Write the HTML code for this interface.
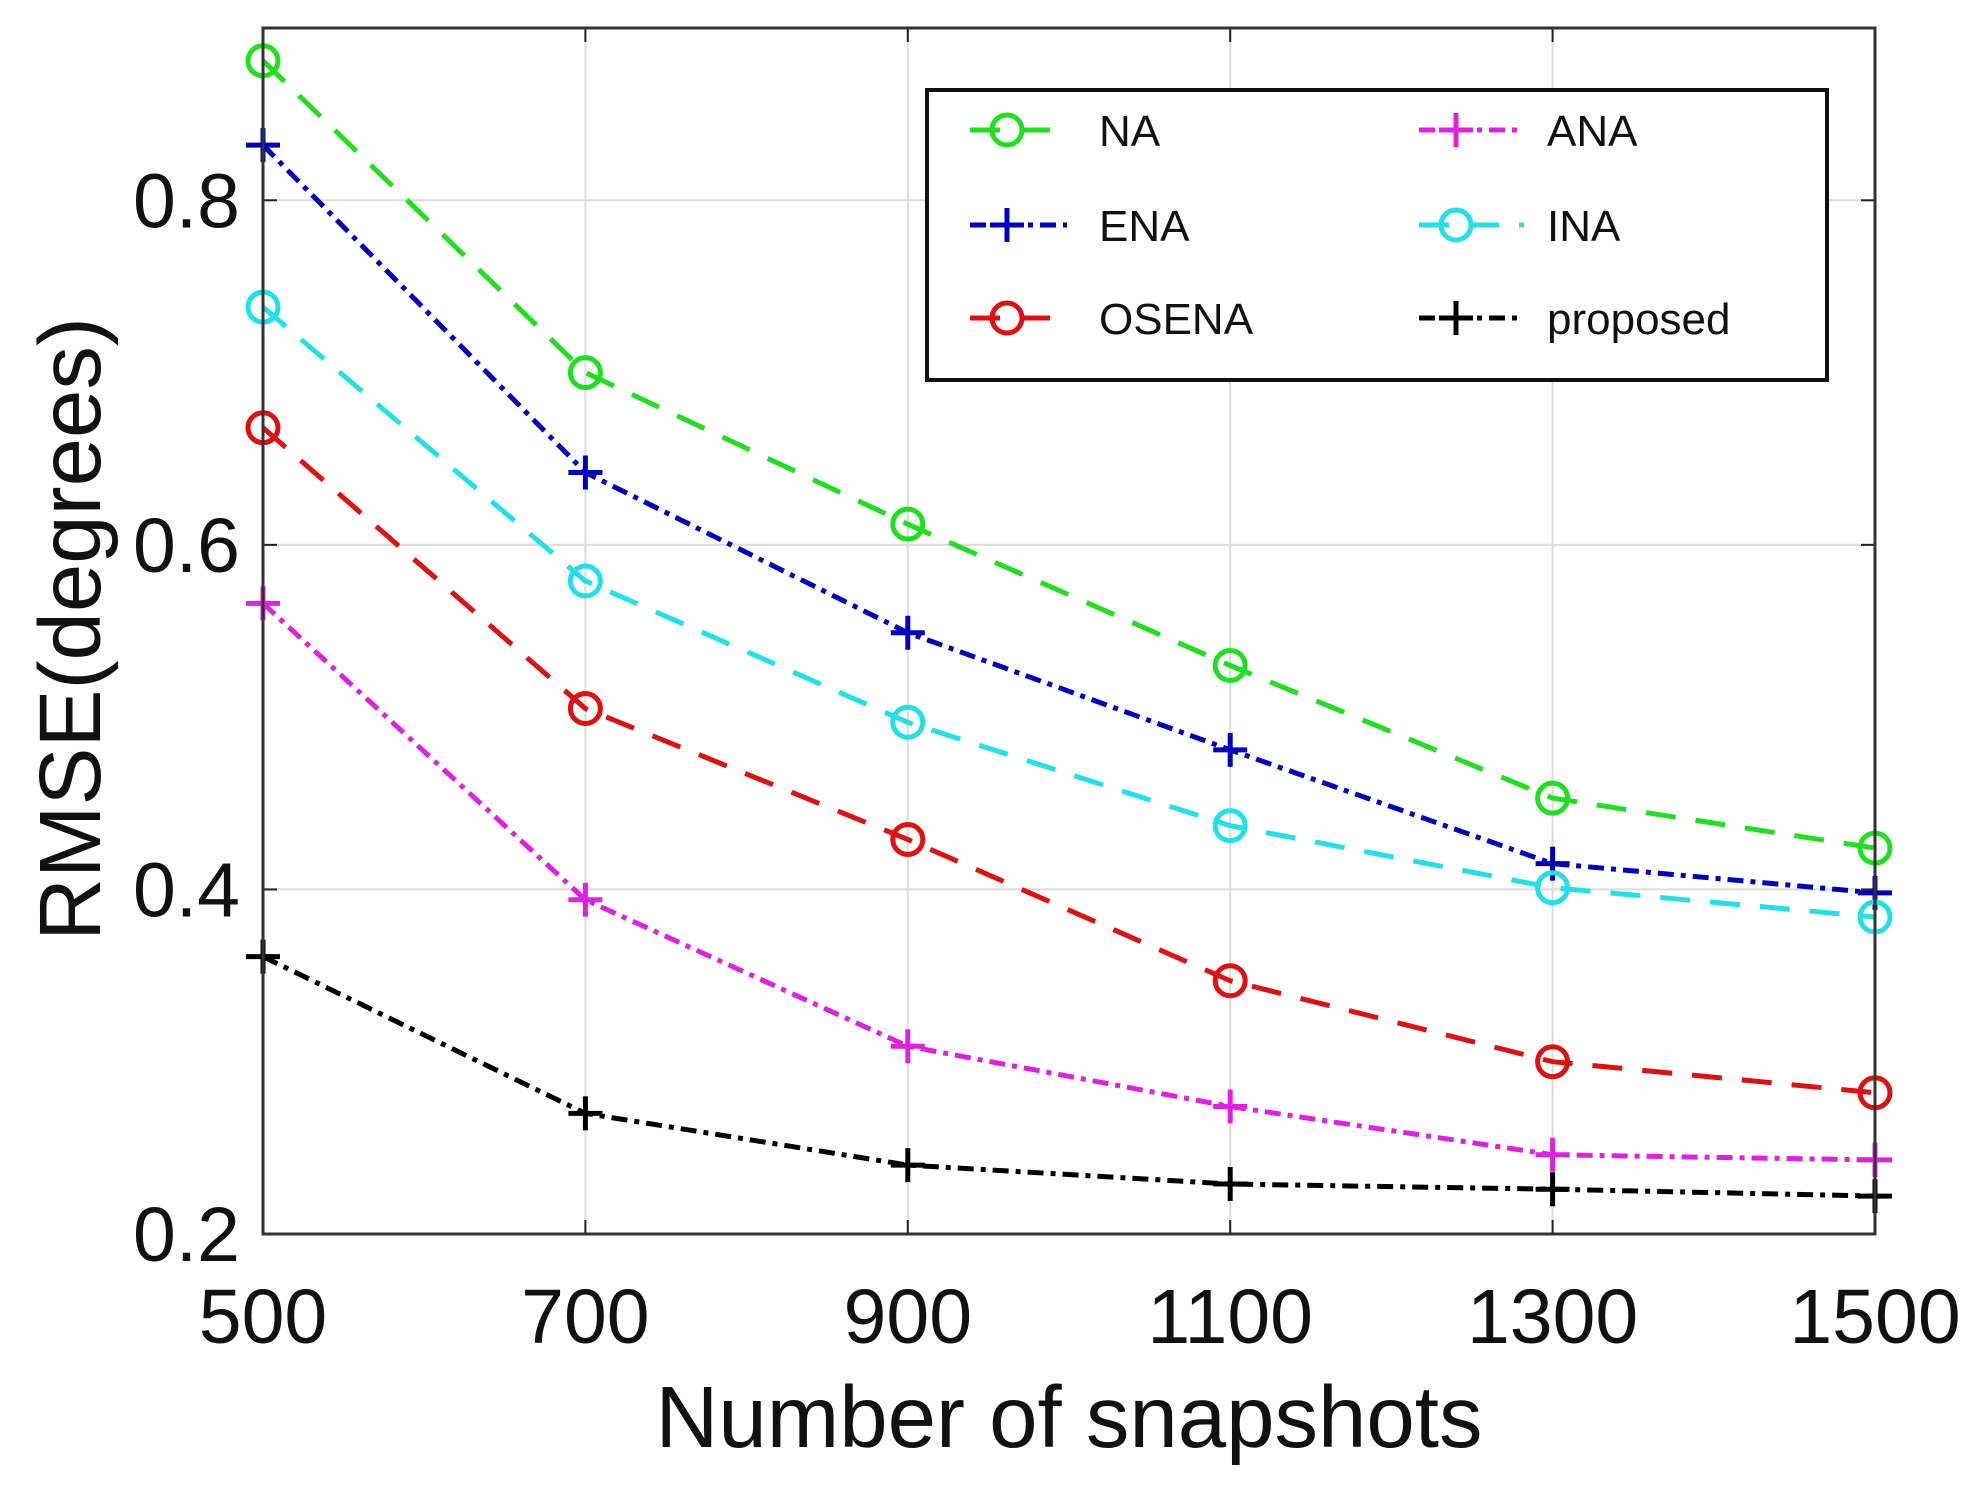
<!DOCTYPE html>
<html><head><meta charset="utf-8"><style>
html,body{margin:0;padding:0;background:#fff;}
svg{display:block;font-family:"Liberation Sans",Arial,sans-serif;}
</style></head><body>
<svg id="chart" width="1982" height="1495" viewBox="0 0 1982 1495" xmlns="http://www.w3.org/2000/svg">
<rect x="0" y="0" width="1982" height="1495" fill="#fff"/>
<g id="grid"></g>
<g id="series"></g>
<g id="axes"></g>
<g id="legend"></g>
<text x="1069" y="1447" font-size="87" text-anchor="middle" fill="#111">Number of snapshots</text>
<text transform="translate(100,629) rotate(-90)" font-size="87" text-anchor="middle" fill="#111">RMSE(degrees)</text>
</svg>
<script>
const categories = [500, 700, 900, 1100, 1300, 1500];
const xTicks = [500, 700, 900, 1100, 1300, 1500];
const yTicks = [0.2, 0.4, 0.6, 0.8];
const yTickLabels = ["0.2", "0.4", "0.6", "0.8"];
const seriesNames = ["NA", "ENA", "OSENA", "ANA", "INA", "proposed"];
const naValues = [0.881, 0.700, 0.612, 0.530, 0.453, 0.424];
const enaValues = [0.832, 0.642, 0.549, 0.481, 0.415, 0.398];
const osenaValues = [0.668, 0.505, 0.429, 0.347, 0.300, 0.282];
const anaValues = [0.566, 0.394, 0.309, 0.274, 0.246, 0.243];
const inaValues = [0.738, 0.579, 0.497, 0.437, 0.401, 0.384];
const proposedValues = [0.361, 0.270, 0.240, 0.229, 0.226, 0.222];

const NS = "http://www.w3.org/2000/svg";
const L = 263, R = 1875, T = 28, B = 1234;
const xMin = 500, xMax = 1500, yMin = 0.2, yMax = 0.9;
function xs(v){ return L + (v - xMin) / (xMax - xMin) * (R - L); }
function ys(v){ return B - (v - yMin) / (yMax - yMin) * (B - T); }
function mk(tag, attrs, parent){
  const e = document.createElementNS(NS, tag);
  for (const k in attrs) e.setAttribute(k, attrs[k]);
  parent.appendChild(e);
  return e;
}
const grid = document.getElementById('grid');
const axes = document.getElementById('axes');
const seriesG = document.getElementById('series');
const legend = document.getElementById('legend');

xTicks.forEach(function(t){
  const g = mk('line', {x1: xs(t), x2: xs(t), y1: T, y2: B, stroke: '#dcdcdc', 'stroke-width': 2}, grid);
  
  
  const tk = mk('line', {x1: xs(t), x2: xs(t), y1: B, y2: B - 14, stroke: '#222', 'stroke-width': 2}, axes);
  
  
  const tk2 = mk('line', {x1: xs(t), x2: xs(t), y1: T, y2: T + 14, stroke: '#222', 'stroke-width': 2}, axes);
  
  
  const lb = mk('text', {x: xs(t), y: 1343, 'font-size': 77, 'text-anchor': 'middle', fill: '#111'}, axes);
  lb.textContent = String(t);
  
  
});
yTicks.forEach(function(t, i){
  const g = mk('line', {x1: L, x2: R, y1: ys(t), y2: ys(t), stroke: '#dcdcdc', 'stroke-width': 2}, grid);
  
  
  const tk = mk('line', {x1: L, x2: L + 14, y1: ys(t), y2: ys(t), stroke: '#222', 'stroke-width': 2}, axes);
  
  
  const tk2 = mk('line', {x1: R, x2: R - 14, y1: ys(t), y2: ys(t), stroke: '#222', 'stroke-width': 2}, axes);
  
  
  const lb = mk('text', {x: 240, y: ys(t) + 27, 'font-size': 77, 'text-anchor': 'end', fill: '#111'}, axes);
  lb.textContent = yTickLabels[i];
  
  
});
const box = mk('rect', {x: L, y: T, width: R - L, height: B - T, fill: 'none', stroke: '#333', 'stroke-width': 3}, axes);



const styles = [
  {vals: naValues, color: '#1ee01e', dash: '30 20', marker: 'o'},
  {vals: enaValues, color: '#0000c0', dash: '16 7 5 7', marker: '+'},
  {vals: osenaValues, color: '#e01010', dash: '30 20', marker: 'o'},
  {vals: anaValues, color: '#e020e0', dash: '16 7 5 7', marker: '+'},
  {vals: inaValues, color: '#20e0e8', dash: '30 20', marker: 'o'},
  {vals: proposedValues, color: '#000', dash: '16 7 5 7', marker: '+'}
];
function drawMarker(parent, type, x, y, color){
  if (type === 'o'){
    const c = mk('circle', {cx: x, cy: y, r: 15, fill: 'none', stroke: color, 'stroke-width': 5}, parent);
    
    
  } else {
    const p = mk('path', {d: 'M' + (x - 17) + ' ' + y + 'H' + (x + 17) + 'M' + x + ' ' + (y - 17) + 'V' + (y + 17), stroke: color, 'stroke-width': 5, fill: 'none'}, parent);
    
    
  }
}
styles.forEach(function(s, si){
  const g = mk('g', {}, seriesG);
  
  
  const pts = s.vals.map(function(v, i){ return xs(categories[i]) + ',' + ys(v); }).join(' ');
  const pl = mk('polyline', {points: pts, fill: 'none', stroke: s.color, 'stroke-width': 5, 'stroke-dasharray': s.dash}, g);
  
  
  s.vals.forEach(function(v, i){ drawMarker(g, s.marker, xs(categories[i]), ys(v), s.color); });
});

const lbox = mk('rect', {x: 927, y: 90, width: 900, height: 290, fill: '#fff', stroke: '#111', 'stroke-width': 4}, legend);


const order = [0, 1, 2, 3, 4, 5];
const rowsY = [130, 225, 318];
order.forEach(function(si, k){
  const col = k < 3 ? 0 : 1;
  const row = k % 3;
  const y = rowsY[row];
  const x0 = col === 0 ? 970 : 1419;
  const x1 = col === 0 ? 1067 : 1524;
  const mx = col === 0 ? 1007 : 1456;
  const tx = col === 0 ? 1099 : 1547;
  const s = styles[si];
  const g = mk('g', {}, legend);
  
  
  const ln = mk('line', {x1: x0, x2: x1, y1: y, y2: y, stroke: s.color, 'stroke-width': 5, 'stroke-dasharray': s.dash}, g);
  
  
  drawMarker(g, s.marker, mx, y, s.color);
  const t = mk('text', {x: tx, y: y + 16, 'font-size': 44, fill: '#111'}, g);
  t.textContent = seriesNames[si];
  
  
});
</script>
</body></html>
